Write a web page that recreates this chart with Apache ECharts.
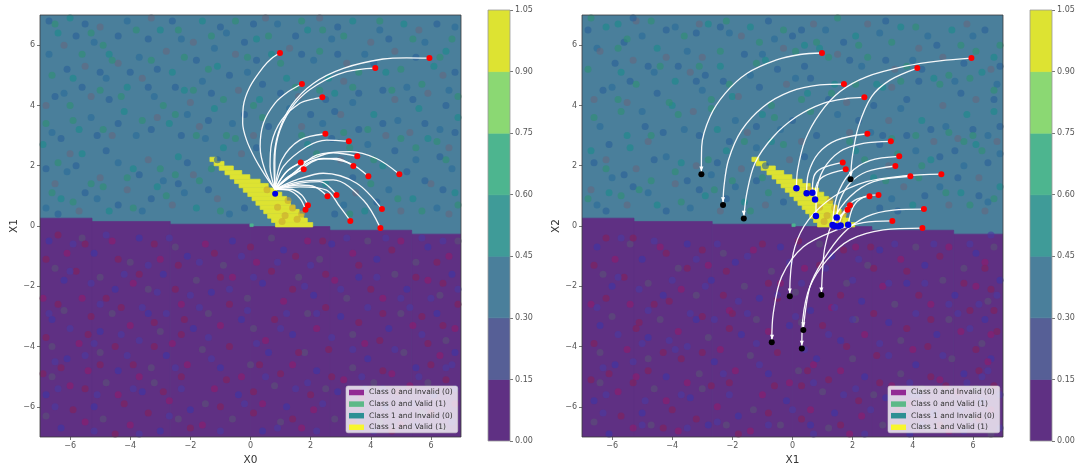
<!DOCTYPE html>
<html><head><meta charset="utf-8">
<style>html,body{margin:0;padding:0;background:#fff}#c{width:1076px;height:469px}</style>
<script src="https://cdn.jsdelivr.net/npm/echarts@6/dist/echarts.min.js"></script>
</head><body><div id="c"></div>
<script>
// ---- tick labels and categories
const axisTicks = [-6,-4,-2,0,2,4,6];
const barTicks = [0,0.15,0.3,0.45,0.6,0.75,0.9,1.05];
const barColors = ['#5f3083','#565f96','#4a7f9b','#3f9b98','#4db58f','#8bd873','#dde332'];
const legendNames = ['Class 0 and Invalid (0)','Class 0 and Valid (1)','Class 1 and Invalid (0)','Class 1 and Valid (1)'];
const legendColors = ['#800080','#3cb371','#008080','#ffff00'];

// ---- decision boundary: [x from, x to, y of boundary]
const boundary = [[-7,-5.27,0.26],[-5.27,-2.67,0.15],[-2.67,0,0.06],[0,2.64,-0.02],[2.64,5.36,-0.14],[5.36,7,-0.27]];
// ---- valid class-1 wedge, one row per grid line: [y centre, x from, x to]
const wedgeRows = [[2.21,-1.35,-1.12],[2.07,-1.21,-0.88],[1.92,-1.04,-0.57],[1.77,-0.85,-0.29],[1.63,-0.68,-0.02],[1.48,-0.53,0.32],[1.34,-0.38,0.59],[1.19,-0.24,0.87],[1.05,-0.09,1.04],[0.91,0.05,1.20],[0.76,0.18,1.33],[0.62,0.32,1.48],[0.48,0.44,1.62],[0.33,0.57,1.76],[0.19,0.70,1.89],[0.04,0.83,2.07]];
const wedgeDots = [0.9,0.62,1.15,0.35,1.4,0.6,1.55,0.22,1.05,0.15,0.55,1.2,1.25,0.85,1.7,0.4];

// ---- counterfactual end points (same in both panels)
const redPoints = [[0.98,5.74],[5.95,5.57],[4.15,5.24],[1.71,4.71],[2.39,4.27],[2.49,3.06],[3.27,2.81],[3.55,2.31],[4.95,1.72],[1.67,2.11],[1.77,1.88],[3.42,1.99],[3.92,1.65],[2.56,0.99],[2.86,1.03],[4.37,0.56],[3.32,0.17],[4.32,-0.07],[1.91,0.69],[1.83,0.54]];
const leftBlue = [[0.82,1.07]];
const rightBlue = [[0.13,1.25],[0.47,1.09],[0.66,1.10],[0.75,0.88],[0.78,0.33],[1.33,0.03],[1.47,0.28],[1.52,-0.02],[1.85,0.04],[1.40,0.0],[1.60,0.02]];
const rightBlack = [[-3.03,1.72],[-2.31,0.70],[-1.62,0.25],[1.93,1.55],[-0.09,-2.33],[0.96,-2.29],[-0.69,-3.86],[0.36,-3.45],[0.31,-4.06]];
const rightArrowTips = [[-3.03,1.89],[-2.31,0.87],[-1.62,0.42],[1.94,1.72],[-0.09,-2.16],[0.96,-2.12],[-0.68,-3.69],[0.36,-3.28],[0.31,-3.89]];

// ---- trajectories, left panel
const leftPaths = [
[[0.81,1.22],[0.48,1.69],[0.15,2.24],[-0.13,2.85],[-0.26,3.41],[-0.24,3.96],[-0.02,4.62],[0.43,5.28],[0.70,5.56],[0.98,5.74]],
[[0.81,1.22],[0.78,2.08],[0.92,3.07],[1.37,4.01],[2.09,4.73],[3.09,5.23],[4.41,5.54],[5.19,5.58],[5.95,5.57]],
[[0.81,1.22],[0.81,2.19],[0.98,3.18],[1.48,4.07],[2.20,4.68],[3.19,5.12],[4.15,5.24]],
[[0.81,1.22],[0.48,1.86],[0.32,2.63],[0.43,3.41],[0.81,4.07],[1.26,4.46],[1.71,4.71]],
[[0.81,1.22],[0.65,1.97],[0.70,2.74],[1.04,3.52],[1.64,4.07],[2.03,4.20],[2.39,4.27]],
[[0.81,1.22],[1.04,2.19],[1.64,2.85],[2.49,3.06]],
[[0.81,1.22],[1.09,1.97],[1.87,2.63],[2.53,2.85],[3.27,2.81]],
[[0.81,1.22],[1.26,1.86],[2.09,2.24],[2.75,2.43],[3.55,2.31]],
[[0.81,1.22],[1.31,1.64],[2.20,2.35],[3.31,2.47],[4.19,2.24],[4.95,1.72]],
[[0.81,1.22],[1.20,1.80],[1.67,2.11]],
[[0.81,1.22],[1.26,1.64],[1.77,1.88]],
[[0.81,1.22],[1.42,1.75],[2.20,2.21],[2.86,2.24],[3.42,1.99]],
[[0.81,1.22],[1.42,1.69],[2.42,2.24],[3.31,2.08],[3.92,1.65]],
[[0.81,1.22],[1.64,1.36],[2.14,1.30],[2.56,0.99]],
[[0.81,1.22],[1.64,1.42],[2.31,1.47],[2.86,1.03]],
[[0.81,1.22],[1.53,1.53],[2.42,1.75],[3.53,1.42],[4.37,0.56]],
[[0.81,1.22],[1.64,1.30],[2.53,1.19],[2.97,0.64],[3.32,0.17]],
[[0.81,1.22],[1.64,1.47],[2.75,1.53],[3.75,0.86],[4.32,-0.07]],
[[0.81,1.22],[1.31,1.22],[1.70,1.03],[1.91,0.69]],
[[0.81,1.22],[1.26,1.19],[1.64,0.92],[1.83,0.54]]
];
// ---- trajectories, right panel
const rightPaths = [
[[-3.03,1.72],[-3.02,2.63],[-2.74,3.63],[-2.24,4.40],[-1.52,5.06],[-0.53,5.51],[0.25,5.69],[0.98,5.74]],
[[0.13,1.25],[0.17,1.86],[0.42,2.85],[0.91,3.74],[1.58,4.46],[2.46,4.95],[3.79,5.31],[4.90,5.48],[5.95,5.57]],
[[1.93,1.55],[1.99,2.30],[2.19,3.29],[2.63,4.29],[3.24,4.84],[4.15,5.24]],
[[-2.31,0.70],[-2.28,1.30],[-2.13,2.19],[-1.69,3.18],[-0.97,3.96],[-0.08,4.46],[0.91,4.68],[1.71,4.71]],
[[-1.62,0.25],[-1.52,1.08],[-1.25,2.08],[-0.64,2.96],[0.14,3.63],[1.02,4.07],[1.80,4.23],[2.39,4.27]],
[[0.47,1.09],[0.53,1.75],[0.86,2.41],[1.47,2.85],[2.49,3.06]],
[[0.78,0.33],[0.80,1.08],[1.02,1.86],[1.58,2.47],[2.35,2.74],[3.27,2.81]],
[[1.33,0.03],[1.47,0.97],[1.91,1.75],[2.57,2.17],[3.55,2.31]],
[[-0.09,-2.33],[-0.08,-1.79],[0.08,-0.69],[0.53,0.20],[1.36,0.97],[2.46,1.47],[3.68,1.66],[4.95,1.72]],
[[0.96,-2.29],[1.00,-1.46],[1.08,-0.69],[1.36,0.20],[1.91,0.97],[2.69,1.47],[3.92,1.65]],
[[-0.69,-3.86],[-0.64,-2.90],[-0.36,-1.68],[0.36,-0.69],[1.47,-0.13],[2.35,0.11],[3.32,0.17]],
[[0.36,-3.45],[0.58,-2.01],[1.02,-1.13],[1.69,-0.24],[2.46,0.31],[3.35,0.53],[4.37,0.56]],
[[0.31,-4.06],[0.34,-3.12],[0.58,-2.01],[1.14,-1.13],[1.91,-0.46],[3.02,-0.13],[4.32,-0.07]],
[[0.66,1.10],[0.71,1.64],[0.97,1.91],[1.67,2.11]],
[[0.75,0.88],[0.78,1.30],[1.02,1.64],[1.77,1.88]],
[[1.47,0.28],[1.58,0.86],[1.91,1.42],[2.46,1.80],[3.42,1.99]],
[[1.52,-0.02],[1.74,0.53],[2.08,0.86],[2.56,0.99]],
[[1.85,0.04],[2.02,0.64],[2.35,0.95],[2.86,1.03]],
[[1.52,0.28],[1.70,0.45],[1.91,0.69]],
[[1.32,0.04],[1.47,0.20],[1.83,0.54]]
];

// ---- background sample dots, estimated by eye (x,y pairs, flat)
const leftUpperA = [-6.8,0.6,-5.1,0.9,-3.6,0.5,-2.2,1.1,-0.7,0.4,3.1,0.7,4.6,1.2,6.2,0.6,-6.1,1.8,-4.4,2.1,-2.9,1.5,-1.5,2.9,2.4,3.4,3.9,2.7,5.5,2.2,6.7,1.9,-6.6,3.1,-5.3,3.6,-3.8,3.0,-2.1,3.7,-0.6,3.4,1.3,3.9,3.4,4.1,4.9,3.5,6.3,3.2,-6.2,4.4,-4.8,4.9,-3.2,4.3,-1.6,4.8,-0.1,5.1,2.1,5.5,3.8,5.7,5.2,4.6,6.6,4.5,-6.7,5.7,-5.2,6.1,-3.7,5.6,-2.3,6.2,-0.8,6.4,0.9,6.7,2.7,6.2,4.3,6.5,5.8,6.1,-4.1,6.8,-1.2,5.9,6.8,6.6];
const leftUpperB = [-6.3,0.9,-4.7,0.5,-3.1,1.3,-1.8,0.6,2.5,1.4,3.8,0.5,5.4,0.9,6.8,1.1,-5.6,2.4,-3.9,1.9,-2.4,2.3,-0.9,2.6,1.9,2.7,4.4,2.0,5.9,2.9,-6.9,2.7,-5.7,3.2,-4.2,3.8,-2.7,3.4,-1.2,3.9,0.3,4.2,2.8,4.4,4.1,3.7,5.6,3.9,6.9,3.6,-5.9,4.9,-4.1,4.6,-2.6,5.1,-1.1,5.3,0.7,5.7,2.6,4.9,4.5,5.1,6.1,5.3,-6.4,6.4,-4.7,5.7,-3.0,6.5,-1.6,6.8,0.2,6.2,1.9,6.5,3.4,6.8,5.1,6.7,6.5,5.8,-6.0,6.9,-2.2,4.5,1.2,4.9];
const leftUpperC = [-5.7,0.5,-4.1,1.2,-2.6,0.7,-1.1,0.9,3.5,1.1,5.0,0.5,6.6,0.4,-6.5,1.4,-5.0,1.6,-3.4,2.2,-1.9,1.7,-0.3,2.4,3.0,2.2,4.5,3.0,6.0,1.4,-6.0,2.4,-4.6,3.0,-3.1,3.6,-1.7,3.3,0.1,3.0,1.7,3.3,3.0,3.7,5.3,3.1,6.6,2.6,-6.8,4.0,-5.3,4.3,-3.6,4.9,-2.0,4.1,-0.4,4.5,1.6,4.3,3.1,4.8,4.8,4.2,5.9,4.4,-5.5,5.3,-4.4,5.4,-2.8,5.8,-0.5,5.7,1.3,5.9,3.2,5.4,4.8,5.8,6.4,5.0,-6.2,6.0,-5.0,6.6,-3.3,6.9,-1.9,6.1,0.5,6.9,2.3,6.9,4.0,6.1,5.6,6.5];
const leftUpperD = [-6.4,0.4,-5.5,1.1,-4.4,0.7,-3.3,0.9,-2.4,1.4,-1.4,1.2,-0.2,0.6,2.8,0.4,3.4,1.6,4.2,0.8,5.8,1.5,6.4,1.2,-6.8,1.9,-5.8,2.0,-4.8,2.5,-3.7,1.7,-2.1,2.1,-1.1,2.2,0.2,2.6,2.7,2.9,3.6,3.2,4.8,2.5,5.2,1.8,6.3,2.3,-6.3,2.9,-5.1,3.0,-4.4,3.4,-3.3,3.2,-2.3,3.0,-1.4,3.5,-0.2,3.7,0.6,3.3,2.0,3.7,2.8,3.8,4.4,3.4,5.8,3.4,6.8,3.1,-6.5,4.3,-5.6,4.6,-4.7,4.2,-3.4,4.6,-2.5,4.6,-1.3,4.4,0.4,4.7,1.0,4.4,2.5,4.2,3.6,4.4,4.4,4.5,5.4,4.2,6.5,4.0,-6.1,5.2,-5.0,5.1,-4.0,5.1,-3.1,5.2,-1.8,5.5,-0.7,5.0,0.2,5.5,1.7,5.7,2.9,5.7,4.1,5.4,5.5,5.6,6.8,5.1,-5.8,6.3,-4.4,6.3,-3.4,6.2,-2.6,6.8,-1.0,6.6,0.1,6.7,1.5,6.3,2.9,6.6,4.6,6.2,6.2,6.7,-6.7,6.8,-5.5,6.7,-0.2,6.1];
const leftUpperE = [-6.6,1.1,-5.9,0.8,-4.9,1.3,-3.9,0.6,-2.8,1.0,-1.7,1.5,-1.0,0.5,3.3,0.4,4.0,1.4,4.9,0.9,5.7,0.5,6.9,0.7,-6.4,2.1,-5.3,1.4,-4.1,1.6,-3.0,1.9,-2.5,1.7,-1.3,1.9,-0.5,2.9,2.2,2.4,3.3,2.6,4.1,2.2,5.0,2.9,6.5,2.2,-6.8,3.4,-5.9,3.5,-4.9,3.2,-3.6,3.5,-2.5,3.7,-1.8,3.0,-0.8,3.0,0.4,3.6,1.7,3.0,3.1,3.1,3.9,3.2,5.5,2.6,6.2,2.8,-6.0,4.0,-5.0,4.5,-4.3,4.3,-2.9,4.0,-1.9,4.5,-0.9,4.2,0.1,4.0,1.5,4.6,2.3,4.5,3.4,4.6,4.7,4.5,5.7,4.7,6.9,4.3,-6.6,5.0,-5.6,5.7,-4.6,5.5,-3.3,5.5,-2.2,5.6,-1.4,5.2,-0.1,5.6,1.0,5.4,2.3,5.8,3.6,5.1,5.0,5.2,6.3,5.6,-6.5,6.7,-4.9,6.0,-3.8,6.5,-2.4,6.5,-1.3,6.3,0.6,6.3,1.7,6.8,3.1,6.3,4.3,6.8,5.4,6.2,6.7,6.2,-5.3,6.4,-0.5,6.8,2.4,6.5];
const leftLowerA = [-6.7,-0.5,-5.2,-0.9,-3.7,-0.4,-2.1,-1.0,-0.6,-0.5,1.1,-0.8,2.7,-0.6,4.2,-1.1,5.9,-0.7,-6.2,-1.8,-4.5,-2.1,-2.9,-1.6,-1.3,-2.2,0.4,-1.9,2.1,-2.3,3.6,-1.7,5.2,-2.1,6.7,-1.6,-6.6,-3.1,-5.0,-3.5,-3.4,-2.9,-1.9,-3.4,-0.3,-3.1,1.4,-3.6,3.0,-3.0,4.6,-3.4,6.2,-2.9,-6.1,-4.4,-4.4,-4.8,-2.8,-4.3,-1.0,-4.7,0.6,-4.2,2.2,-4.8,3.9,-4.4,5.5,-4.7,6.8,-4.2,-6.8,-5.6,-5.2,-6.0,-3.6,-5.5,-2.0,-6.1,-0.4,-5.6,1.2,-6.0,2.9,-5.5,4.5,-6.0,6.1,-5.6,-6.3,-6.7,-3.0,-6.8,0.4,-6.8,3.7,-6.7];
const leftLowerB = [-6.1,-0.9,-4.6,-0.5,-3.0,-1.1,-1.5,-0.6,0.2,-1.2,1.9,-0.5,3.4,-0.9,5.0,-0.5,6.6,-1.0,-5.6,-2.4,-3.9,-1.9,-2.3,-2.6,-0.6,-1.7,1.1,-2.5,2.8,-1.8,4.4,-2.4,5.9,-1.8,-6.9,-2.4,-5.7,-3.9,-4.0,-3.3,-2.6,-3.9,-1.0,-3.3,0.5,-3.8,2.2,-3.4,3.8,-3.9,5.4,-3.3,6.8,-3.4,-5.4,-4.8,-3.7,-5.0,-2.1,-4.6,-0.3,-5.0,1.4,-4.6,3.1,-5.1,4.7,-4.9,6.3,-4.3,-6.0,-5.3,-4.4,-5.6,-2.7,-5.8,-1.2,-5.4,0.4,-5.9,2.1,-6.1,3.7,-5.7,5.3,-5.3,6.8,-5.9,-5.5,-6.5,-4.0,-6.6,-1.6,-6.6,1.7,-6.7,5.0,-6.6];
const leftLowerC = [-5.6,-0.4,-4.0,-1.2,-2.5,-0.7,-0.9,-1.3,0.7,-0.4,2.3,-1.1,3.9,-0.5,5.5,-1.2,6.9,-0.5,-6.5,-1.4,-5.0,-1.7,-3.4,-2.1,-1.8,-1.8,-0.1,-2.4,1.6,-1.7,3.2,-2.4,4.8,-1.6,6.3,-2.3,-6.2,-2.8,-4.6,-2.9,-3.0,-3.5,-1.4,-2.9,0.1,-3.4,1.9,-2.9,3.4,-3.6,5.0,-2.9,6.5,-3.8,-6.6,-4.0,-5.0,-4.2,-3.3,-4.7,-1.6,-4.1,0.0,-4.6,1.8,-4.2,3.4,-4.7,5.1,-4.2,5.9,-5.2,-6.6,-5.0,-4.8,-5.2,-3.2,-5.2,-1.5,-5.9,0.8,-5.3,2.5,-5.4,4.1,-5.2,5.7,-6.2,-6.8,-6.3,-4.9,-6.4,-2.4,-6.4,-0.6,-6.4,1.0,-6.5,2.8,-6.4,4.3,-6.5,6.4,-6.7];
const leftLowerD = [-6.4,-0.3,-5.5,-0.6,-4.4,-1.1,-3.2,-0.6,-2.4,-1.3,-1.2,-0.9,0.0,-0.7,1.5,-1.0,2.4,-0.5,3.6,-1.3,4.7,-0.8,6.2,-1.2,-6.8,-1.1,-5.8,-1.5,-4.8,-2.4,-3.7,-1.6,-2.5,-2.1,-1.0,-1.7,0.7,-1.5,1.4,-2.1,2.5,-1.6,4.0,-2.1,5.5,-1.7,6.4,-1.9,-6.4,-2.6,-5.3,-3.0,-4.3,-2.7,-3.2,-3.2,-2.2,-3.1,-0.7,-2.6,0.8,-3.1,2.5,-2.7,3.6,-3.2,4.4,-2.9,5.7,-3.0,6.9,-2.6,-6.8,-3.7,-5.4,-3.6,-4.5,-4.0,-3.2,-4.0,-2.3,-3.6,-0.7,-4.0,0.3,-4.6,1.6,-4.2,2.6,-4.1,4.3,-3.8,5.9,-3.9,6.4,-3.3,-6.3,-4.7,-5.0,-4.6,-3.9,-4.6,-2.3,-5.0,-0.8,-5.1,1.0,-4.9,2.7,-5.0,4.4,-4.8,6.0,-4.6,-6.9,-4.9,-5.5,-5.4,-4.2,-5.9,-2.9,-5.5,-1.0,-6.0,0.1,-5.5,2.0,-5.6,3.3,-5.9,4.9,-5.5,6.5,-5.1,-5.9,-6.1,-4.5,-6.9,-3.4,-6.2,-2.0,-6.7,0.1,-6.2,1.4,-6.4,3.4,-6.5,4.7,-6.8,6.0,-6.2];
const leftLowerE = [-5.9,-0.6,-4.8,-0.3,-3.4,-1.3,-2.7,-0.4,-1.7,-1.2,-0.3,-1.0,0.9,-1.2,2.0,-1.3,3.2,-0.4,4.5,-0.4,5.7,-0.4,6.4,-0.5,-6.0,-1.5,-5.3,-1.9,-4.2,-1.6,-3.1,-2.2,-2.0,-2.3,-0.7,-2.1,0.1,-1.7,1.8,-2.0,3.0,-2.1,4.2,-1.7,5.0,-2.4,6.9,-2.1,-6.7,-2.9,-5.0,-2.6,-3.6,-2.7,-2.8,-2.9,-1.7,-2.7,-0.1,-2.8,1.2,-2.9,2.2,-2.9,3.9,-2.7,5.3,-2.7,6.0,-2.4,-6.0,-3.4,-5.2,-3.9,-4.3,-3.6,-3.7,-3.8,-1.4,-3.7,0.2,-3.9,1.0,-3.4,2.7,-3.7,3.4,-4.1,4.8,-4.1,5.7,-3.6,6.7,-4.6,-6.5,-4.5,-5.5,-4.3,-4.1,-4.3,-2.5,-4.7,-1.3,-4.4,0.5,-5.0,1.9,-5.2,3.7,-5.0,4.4,-5.4,5.6,-5.0,6.5,-4.7,-6.4,-5.4,-5.1,-5.6,-3.9,-5.4,-2.3,-5.4,-0.2,-5.9,1.5,-5.4,2.4,-5.9,3.8,-5.4,5.4,-5.9,6.8,-5.4,-6.5,-6.0,-5.2,-6.8,-3.7,-6.9,-2.7,-6.3,-1.0,-6.8,0.9,-6.7,2.2,-6.8,4.1,-6.8,5.5,-6.6,6.7,-6.5];

const rightUpperA = [-6.5,0.7,-4.8,1.1,-3.4,0.6,-1.9,1.3,3.3,0.9,4.9,1.3,6.5,0.8,-6.0,1.6,-4.2,2.3,-2.7,1.7,-1.2,2.6,2.6,3.1,4.1,2.5,5.7,2.0,6.9,2.4,-6.4,3.3,-5.0,3.8,-3.6,3.2,-1.9,3.5,-0.4,3.2,1.5,3.7,3.6,3.9,5.1,3.3,6.5,3.0,-6.0,4.6,-4.6,5.1,-3.0,4.5,-1.4,5.0,0.1,4.9,2.3,5.3,4.0,5.5,5.4,4.8,6.8,4.7,-6.5,5.9,-5.0,6.3,-3.5,5.8,-2.1,6.4,-0.6,6.2,1.1,6.5,2.9,6.4,4.5,6.3,6.0,6.3,-3.9,6.6,-1.0,5.7];
const rightUpperB = [-6.1,1.1,-4.5,0.7,-2.9,1.0,-1.6,0.8,2.7,1.6,4.0,0.7,5.6,1.1,6.9,1.3,-5.4,2.6,-3.7,2.1,-2.2,2.5,-0.7,2.8,2.1,2.5,4.6,2.2,6.1,2.7,-6.7,2.5,-5.5,3.0,-4.0,4.0,-2.5,3.2,-1.0,3.7,0.5,4.4,3.0,4.6,4.3,3.5,5.8,3.7,6.7,3.8,-5.7,5.1,-3.9,4.8,-2.4,5.3,-0.9,5.5,0.9,5.9,2.8,4.7,4.7,4.9,6.3,5.1,-6.2,6.6,-4.5,5.9,-2.8,6.7,-1.4,6.6,0.4,6.0,2.1,6.3,3.6,6.6,5.3,6.5,6.7,5.6,-5.8,6.7,-2.0,4.3,1.4,4.7];
const rightUpperC = [-5.5,0.7,-3.9,1.4,-2.4,0.5,-0.9,0.7,3.7,1.3,5.2,0.7,6.4,0.5,-6.7,1.2,-5.2,1.9,-3.2,2.0,-1.7,1.9,-0.1,2.2,3.2,2.0,4.7,2.8,6.2,1.6,-6.2,2.2,-4.8,2.8,-3.3,3.8,-1.5,3.1,0.3,2.8,1.9,3.1,3.2,3.5,5.5,2.9,6.8,2.8,-6.6,4.2,-5.5,4.1,-3.4,5.1,-1.8,4.3,-0.2,4.7,1.8,4.1,3.3,4.6,5.0,4.0,6.1,4.2,-5.3,5.5,-4.2,5.6,-3.0,5.6,-0.3,5.9,1.5,5.7,3.4,5.2,5.0,5.6,6.6,5.2,-6.4,5.8,-5.2,6.8,-3.1,6.7,-1.7,6.3,0.7,6.7,2.5,6.7,4.2,5.9,5.8,6.7];
const rightUpperD = [-6.2,0.5,-5.3,1.3,-4.2,0.5,-3.1,1.2,-2.2,0.9,-1.2,1.5,-0.3,0.8,2.9,0.6,3.5,0.5,4.4,1.0,5.5,1.6,6.2,1.0,-6.6,2.1,-5.6,1.7,-4.6,2.2,-3.5,1.5,-2.5,2.1,-0.9,2.0,0.4,2.3,2.9,2.7,3.8,3.0,4.9,2.3,5.4,2.5,6.5,2.1,-6.1,2.7,-4.9,3.3,-4.3,3.1,-3.1,3.0,-2.1,2.8,-1.2,3.3,0.0,3.5,0.8,3.0,2.2,3.5,3.0,3.0,4.6,3.2,6.0,3.2,6.9,3.3,-6.3,4.5,-5.4,4.8,-4.5,4.4,-3.2,4.8,-2.3,4.8,-1.1,4.6,0.6,4.9,1.2,4.2,2.7,4.0,3.8,4.2,4.2,4.8,5.6,4.4,6.7,4.2,-5.9,5.4,-4.8,5.3,-3.8,5.3,-2.9,5.0,-1.6,5.7,-0.5,5.2,0.4,5.3,1.9,5.5,3.1,5.5,4.3,5.2,5.7,5.4,6.9,5.3,-5.6,6.1,-4.2,6.5,-3.2,6.4,-2.4,6.6,-0.8,6.8,0.3,6.5,1.7,6.1,3.1,6.8,4.8,6.0,6.4,6.5,-6.8,6.5,-5.3,6.9,0.0,6.3];
const rightUpperE = [-6.8,0.9,-5.7,1.0,-4.7,1.5,-3.7,0.8,-2.6,1.2,-1.4,0.5,-0.8,1.1,3.1,1.5,4.2,1.6,5.1,1.1,5.9,0.7,6.7,0.9,-6.2,1.9,-5.1,1.2,-3.9,1.8,-2.8,2.2,-2.0,1.5,-1.0,1.6,-0.3,2.7,2.4,2.2,3.5,2.4,4.3,2.0,5.2,3.1,6.3,2.5,-6.6,3.6,-5.7,3.8,-4.7,3.0,-3.8,3.7,-2.7,3.9,-1.6,2.8,-0.6,3.6,0.6,3.8,1.9,2.8,3.3,2.9,4.1,3.0,5.7,2.8,6.0,3.0,-5.8,4.2,-5.2,4.7,-4.1,4.1,-2.7,4.2,-2.1,4.7,-0.7,4.0,0.3,4.2,1.3,4.4,2.1,4.7,3.6,4.8,4.9,4.7,5.9,4.9,6.7,4.5,-6.8,5.2,-5.8,5.9,-4.4,5.3,-3.1,5.3,-2.4,5.8,-1.2,5.4,0.1,5.8,1.2,5.6,2.5,5.6,3.8,5.3,5.2,5.0,6.1,5.8,-6.7,6.9,-4.7,6.8,-3.6,6.3,-2.2,6.8,-1.1,6.1,0.8,6.1,1.5,6.9,3.3,6.1,4.1,6.6,5.6,6.0,6.9,6.0,-5.5,6.2,-0.3,6.5,2.2,6.0];
const rightLowerA = [-6.5,-0.7,-5.0,-1.1,-3.5,-0.6,-1.9,-1.2,-0.4,-0.7,1.3,-1.0,2.9,-0.8,4.4,-1.3,6.1,-0.9,-6.0,-2.0,-4.3,-2.3,-2.7,-1.8,-1.1,-2.4,0.6,-2.8,2.3,-2.5,3.8,-1.9,5.4,-2.3,6.9,-1.8,-6.4,-3.3,-4.8,-3.7,-3.2,-3.1,-1.7,-3.6,-0.1,-3.3,1.6,-3.8,3.2,-3.2,4.8,-3.6,6.4,-3.1,-5.9,-4.6,-4.2,-5.0,-2.6,-4.5,-0.8,-4.9,0.8,-4.4,2.4,-5.0,4.1,-4.6,5.7,-4.9,6.6,-4.4,-6.6,-5.8,-5.0,-6.2,-3.4,-5.7,-1.8,-6.3,-0.2,-5.8,1.4,-6.2,3.1,-5.7,4.7,-6.2,6.3,-5.8,-6.1,-6.9,-2.8,-6.6,0.6,-6.6,3.9,-6.9];
const rightLowerB = [-5.9,-1.1,-4.4,-0.7,-2.8,-1.3,-1.3,-0.8,0.4,-1.4,2.1,-0.7,3.6,-1.1,5.2,-0.7,6.4,-1.2,-5.4,-2.6,-3.7,-2.1,-2.1,-2.8,-0.4,-1.9,1.3,-2.7,3.0,-2.0,4.6,-2.6,6.1,-2.0,-6.7,-2.6,-5.5,-4.1,-3.8,-3.5,-2.4,-4.1,-0.8,-3.5,0.7,-4.6,2.4,-3.6,4.0,-4.1,5.6,-3.5,6.6,-3.6,-5.2,-5.0,-3.5,-5.2,-1.9,-4.8,-0.1,-5.2,1.6,-4.8,3.3,-5.3,4.9,-5.1,6.5,-4.5,-5.8,-5.5,-4.2,-5.8,-2.5,-6.0,-1.0,-5.6,0.6,-6.1,2.3,-6.3,3.9,-5.9,5.5,-5.5,6.6,-6.1,-5.3,-6.7,-3.8,-6.8,-1.4,-6.8,1.9,-6.9,5.2,-6.8];
const rightLowerC = [-5.4,-0.6,-3.8,-1.4,-2.3,-0.9,-0.7,-1.5,0.9,-0.6,2.5,-1.3,4.1,-0.7,5.7,-1.4,6.7,-0.7,-6.3,-1.6,-4.8,-1.9,-3.2,-2.3,-1.6,-2.0,0.1,-2.2,1.8,-1.9,3.4,-2.6,5.0,-1.8,6.5,-2.5,-6.0,-3.0,-4.4,-3.1,-2.8,-3.7,-1.2,-3.1,0.3,-3.2,2.1,-3.1,3.6,-3.8,5.2,-3.1,6.3,-3.9,-6.4,-4.2,-4.8,-4.4,-3.1,-4.9,-1.4,-4.3,0.2,-4.8,2.0,-4.4,3.6,-4.9,5.3,-4.4,6.1,-5.4,-6.4,-5.2,-4.6,-5.4,-3.0,-5.4,-1.3,-6.1,1.0,-5.5,2.7,-5.6,4.3,-5.4,5.9,-6.4,-6.6,-6.5,-4.7,-6.6,-2.2,-6.6,-0.4,-6.6,1.2,-6.7,3.0,-6.6,4.5,-6.7,6.6,-6.9];
const rightLowerD = [-6.2,-0.4,-5.3,-0.4,-4.2,-0.9,-3.0,-0.8,-2.2,-1.5,-1.0,-0.6,0.2,-0.5,1.7,-0.8,2.6,-0.7,3.8,-1.5,4.9,-1.0,6.4,-1.4,-6.6,-1.3,-5.6,-1.7,-4.6,-2.6,-3.5,-1.4,-2.3,-2.3,-0.8,-1.9,0.9,-1.3,1.6,-2.3,2.7,-1.4,4.2,-2.3,5.7,-1.9,6.6,-2.1,-6.2,-2.4,-5.1,-3.2,-4.1,-2.5,-3.0,-3.0,-2.0,-2.9,-0.5,-2.4,1.0,-3.3,2.7,-2.9,3.8,-3.4,4.6,-3.1,5.9,-2.8,6.7,-2.8,-6.6,-3.9,-5.2,-3.4,-4.3,-4.2,-3.0,-4.2,-2.1,-3.4,-0.5,-4.2,0.5,-4.8,1.8,-4.0,2.8,-4.3,4.5,-4.0,6.1,-4.1,6.8,-3.5,-6.1,-4.9,-4.8,-4.8,-3.7,-4.4,-2.1,-5.2,-0.6,-5.3,1.2,-5.1,2.9,-5.2,4.6,-5.0,6.2,-4.8,-6.7,-5.1,-5.3,-5.2,-4.0,-6.1,-2.7,-5.3,-0.8,-6.2,0.3,-5.3,2.2,-5.8,3.5,-6.1,5.1,-5.3,6.7,-5.3,-5.7,-6.3,-4.3,-6.7,-3.2,-6.4,-1.8,-6.9,0.3,-6.4,1.6,-6.6,3.6,-6.3,4.9,-6.6,6.2,-6.4];
const rightLowerE = [-5.7,-0.4,-4.6,-0.5,-3.2,-1.1,-2.5,-0.6,-1.5,-1.0,-0.1,-1.2,1.1,-1.4,2.2,-1.1,3.4,-0.6,4.7,-0.6,5.9,-0.6,6.6,-0.3,-5.8,-1.7,-5.1,-2.1,-4.0,-1.8,-2.9,-2.0,-1.8,-2.5,-0.5,-2.3,0.3,-1.9,2.0,-1.8,3.2,-1.9,4.4,-1.9,5.2,-2.6,6.8,-2.3,-6.5,-2.7,-4.8,-2.8,-3.4,-2.9,-2.6,-3.1,-1.5,-2.9,0.1,-3.0,1.4,-2.7,2.0,-3.1,4.1,-2.9,5.5,-2.9,6.2,-2.6,-5.8,-3.6,-5.0,-3.9,-4.1,-3.8,-3.5,-4.0,-1.2,-3.9,0.4,-4.1,1.2,-3.6,2.9,-3.9,3.2,-4.3,5.0,-4.3,5.9,-3.4,6.5,-4.8,-6.3,-4.7,-5.3,-4.5,-3.9,-4.1,-2.3,-4.9,-1.1,-4.6,0.7,-5.2,2.1,-5.4,3.9,-5.2,4.2,-5.6,5.8,-5.2,6.3,-5.0,-6.2,-5.6,-4.9,-5.8,-3.7,-5.6,-2.1,-5.6,0.0,-6.1,1.7,-5.6,2.6,-6.1,4.0,-5.6,5.6,-6.1,6.9,-5.6,-6.3,-6.2,-5.0,-6.6,-3.5,-6.7,-2.5,-6.5,-0.8,-6.6,0.7,-6.9,2.4,-6.9,4.3,-6.6,5.7,-6.8,6.9,-6.7];

const pairs = f => { const o=[]; for(let i=0;i<f.length;i+=2) o.push([f[i],f[i+1]]); return o; };
const FONT = '"DejaVu Sans"';
const UPPER = '#4a7f9b', LOWER = '#5f3083';

function renderRect(params, api){
  const p0 = api.coord([api.value(0), api.value(3)]);
  const p1 = api.coord([api.value(1), api.value(2)]);
  const fill = api.value(4);
  return {type:'rect', shape:{x:p0[0], y:p0[1], width:p1[0]-p0[0], height:p1[1]-p0[1]}, style:{fill, stroke:fill, lineWidth:0.7}};
}
const rectSeries = (idx, data, z) => ({
  type:'custom', xAxisIndex:idx, yAxisIndex:idx, z, silent:true, clip:true,
  dimensions:[{name:'a',type:'number'},{name:'b',type:'number'},{name:'c',type:'number'},{name:'d',type:'number'},{name:'e',type:'ordinal'}],
  encode:{x:[0,1], y:[2,3]}, renderItem:renderRect, data
});
const background = () => [[-7,7,-7,7,UPPER]].concat(boundary.map(b=>[b[0],b[1],-7,b[2],LOWER]));
const wedge = () => wedgeRows.map(r=>[r[1],r[2],r[0]-0.072,r[0]+0.072,'#dde332']).concat([[-0.02,0.09,-0.02,0.07,'#4db58f']]);
const barRects = () => barColors.map((c,i)=>[0,1,barTicks[i],barTicks[i+1],c]);

const dots = (idx, list, color, op) => ({type:'scatter', xAxisIndex:idx, yAxisIndex:idx, z:3, silent:true, symbolSize:7,
  itemStyle:{color, opacity:op}, data:pairs(list)});
const path = (idx, d) => ({type:'line', xAxisIndex:idx, yAxisIndex:idx, z:5, silent:true, data:d, smooth:0.33, symbol:'none',
  lineStyle:{color:'#fff', width:1.3, opacity:0.95}});
const marks = (idx, d, color, size, z) => ({type:'scatter', xAxisIndex:idx, yAxisIndex:idx, z, silent:true, symbolSize:size, itemStyle:{color, opacity:1}, data:d});

const valueAxis = (grid, name, pos) => ({
  type:'value', gridIndex:grid, min:-7, max:7, position:pos,
  name, nameLocation:'middle', nameGap: pos==='bottom' ? 16 : 20,
  nameTextStyle:{fontFamily:FONT, fontSize:10.5, color:'#333'},
  splitLine:{show:false}, axisLine:{show:false,onZero:false},
  axisTick:{show:true, length:3, customValues:axisTicks, lineStyle:{color:'#555', width:0.8}},
  axisLabel:{show:true, customValues:axisTicks, fontFamily:FONT, fontSize:8, color:'#555', margin:5, formatter:v=>String(v).replace('-','\u2212')}
});
const barY = grid => ({type:'value', gridIndex:grid, min:0, max:1.05, position:'right', splitLine:{show:false}, axisLine:{show:false,onZero:false},
  axisTick:{show:true, length:3, customValues:barTicks, lineStyle:{color:'#555', width:0.8}},
  axisLabel:{show:true, customValues:barTicks, fontFamily:FONT, fontSize:8, color:'#555', margin:5, formatter:v=>v.toFixed(2)}});
const barX = grid => ({type:'value', gridIndex:grid, min:0, max:1, show:false});
const legendOf = left => ({orient:'vertical', left, top:386, data:legendNames.map(name=>({name, icon:'rect'})),
  itemWidth:15, itemHeight:5.5, itemGap:0.6, padding:[1,5,0,3], backgroundColor:'rgba(255,255,255,0.78)', borderColor:'#ccc', borderWidth:0.6, borderRadius:2,
  selectedMode:false, textStyle:{fontFamily:FONT, fontSize:7.5, color:'#333', lineHeight:11}, z:20});

const gridOf = (left, top, width, height, borderColor, z) => ({left, top, width, height, show:true, borderColor, borderWidth:0.8, backgroundColor:'transparent', z, outerBoundsMode:'none', containLabel:false});

const series = [
  rectSeries(0, background(), 1), rectSeries(1, background(), 1),
  rectSeries(0, wedge(), 2), rectSeries(1, wedge(), 2),
  rectSeries(2, barRects(), 1), rectSeries(3, barRects(), 1),
  dots(0,leftUpperA,'#2a6a9a',0.6), dots(0,leftUpperB,'#1a8a8a',0.6), dots(0,leftUpperC,'#66687e',0.6), dots(0,leftUpperD,'#2a5f98',0.6), dots(0,leftUpperE,'#2f8f72',0.6),
  dots(0,leftLowerA,'#3d36a4',0.62), dots(0,leftLowerB,'#8e1c6c',0.62), dots(0,leftLowerC,'#5a5078',0.62), dots(0,leftLowerD,'#83205a',0.62), dots(0,leftLowerE,'#4a3aa0',0.62),
  dots(1,rightUpperA,'#2a6a9a',0.6), dots(1,rightUpperB,'#1a8a8a',0.6), dots(1,rightUpperC,'#66687e',0.6), dots(1,rightUpperD,'#2a5f98',0.6), dots(1,rightUpperE,'#2f8f72',0.6),
  dots(1,rightLowerA,'#3d36a4',0.62), dots(1,rightLowerB,'#8e1c6c',0.62), dots(1,rightLowerC,'#5a5078',0.62), dots(1,rightLowerD,'#83205a',0.62), dots(1,rightLowerE,'#4a3aa0',0.62),
  dots(0,wedgeDots,'#c8a030',0.55), dots(1,wedgeDots,'#c8a030',0.55),
  ...leftPaths.map(d=>path(0,d)), ...rightPaths.map(d=>path(1,d)),
  {type:'scatter', xAxisIndex:1, yAxisIndex:1, z:5, silent:true, symbol:'triangle', symbolRotate:180, symbolSize:[4,5], itemStyle:{color:'#fff',opacity:1}, data:rightArrowTips},
  marks(0, redPoints, '#ff0000', 6, 7), marks(1, redPoints, '#ff0000', 6, 7),
  marks(0, leftBlue, '#0000e6', 6, 6), marks(1, rightBlue, '#0000e6', 6.5, 6),
  marks(1, rightBlack, '#000000', 6, 6),
  ...legendNames.map((n,i)=>({type:'scatter', name:n, xAxisIndex:0, yAxisIndex:0, data:[], itemStyle:{color:legendColors[i]}}))
];

const chart = echarts.init(document.getElementById('c'), null, {renderer:'canvas'});
chart.setOption({
  animation:false, backgroundColor:'#fff',
  grid:[gridOf(40,15,421,422,'#3a3a3a',8), gridOf(582,15,421,422,'#3a3a3a',8), gridOf(488,10,22,431,'#999',2), gridOf(1030,10,22,431,'#999',2)],
  xAxis:[valueAxis(0,'X0','bottom'), valueAxis(1,'X1','bottom'), barX(2), barX(3)],
  yAxis:[valueAxis(0,'X1','left'), valueAxis(1,'X2','left'), barY(2), barY(3)],
  legend:[legendOf(346), legendOf(888)],
  series
});
</script></body></html>
